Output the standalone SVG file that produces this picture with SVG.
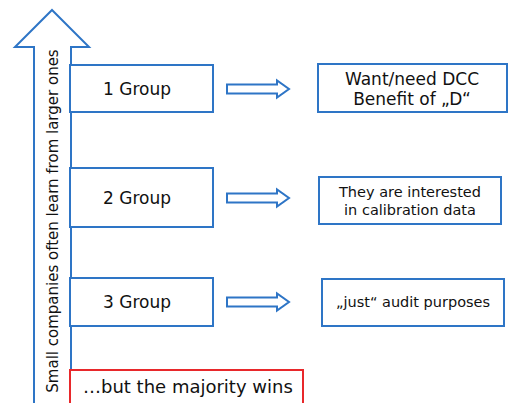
<svg xmlns="http://www.w3.org/2000/svg" width="509" height="403" viewBox="0 0 509 403">
<defs>
<style>
.b{fill:#fff;stroke:#2E75C6;stroke-width:2}
.r{fill:#fff;stroke:#E8282B;stroke-width:2}
.t{font-family:"Comic Sans MS","DejaVu Sans",sans-serif;fill:#111;text-anchor:middle}
</style>
<polygon id="blk" class="b" points="0,-4.5 50,-4.5 50,-8.5 62,0 50,8.5 50,4.5 0,4.5"/>
</defs>
<rect width="509" height="403" fill="#fff"/>
<g id="bigarrow">
<polygon class="b" points="52,10 89,47 71,47 71,404 34,404 34,47 15,47"/>
<text class="t" font-size="15" transform="translate(58,221) rotate(-90)">Small companies often learn from larger ones</text>
</g>
<g id="group1">
<rect class="b" x="70" y="65" width="143" height="47"/>
<text class="t" x="137" y="95" font-size="17">1 Group</text>
</g>
<g id="group2">
<rect class="b" x="70" y="168" width="143" height="59"/>
<text class="t" x="137" y="204" font-size="17">2 Group</text>
</g>
<g id="group3">
<rect class="b" x="70" y="278" width="143" height="48"/>
<text class="t" x="137" y="308" font-size="17">3 Group</text>
</g>
<g id="majority">
<rect class="r" x="70" y="370" width="233" height="35"/>
<text class="t" x="83" y="393" font-size="18" style="text-anchor:start">…but the majority wins</text>
</g>
<g id="result1">
<rect class="b" x="318" y="64" width="189" height="48"/>
<text class="t" x="412" y="85" font-size="17">Want/need DCC</text>
<text class="t" x="412" y="105" font-size="17">Benefit of „D“</text>
</g>
<g id="result2">
<rect class="b" x="319" y="177" width="182" height="47"/>
<text class="t" x="410" y="197" font-size="14.5">They are interested</text>
<text class="t" x="410" y="215" font-size="14.5">in calibration data</text>
</g>
<g id="result3">
<rect class="b" x="322" y="279" width="182" height="47"/>
<text class="t" x="413" y="307" font-size="14.5">„just“ audit purposes</text>
</g>
<g id="connectors">
<use href="#blk" x="227" y="89"/>
<use href="#blk" x="227" y="198"/>
<use href="#blk" x="227" y="302"/>
</g>
</svg>
